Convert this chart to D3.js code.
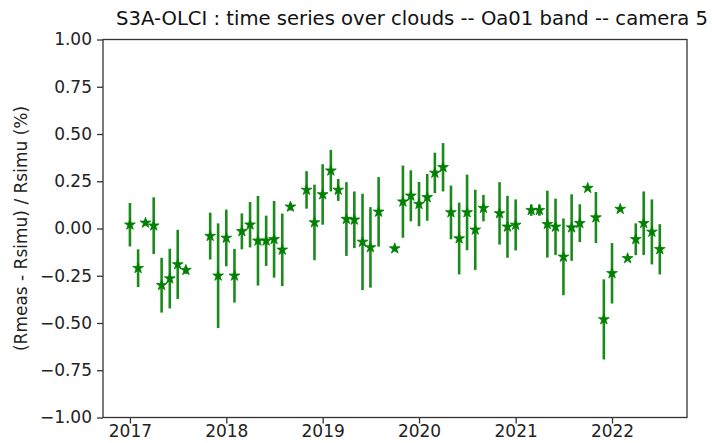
<!DOCTYPE html>
<html>
<head>
<meta charset="utf-8">
<script src="https://cdn.jsdelivr.net/npm/d3@7"></script>
<style>
  html, body { margin: 0; padding: 0; background: #fff; }
  svg { display: block; font-family: "DejaVu Sans", sans-serif; }
</style>
</head>
<body>
<svg id="chart" width="712" height="443"></svg>
<script>
// Monthly cloud-calibration results for S3A-OLCI, band Oa01, camera 5
const dates = [
  "2017-01-01","2017-02-01","2017-03-01","2017-04-01","2017-05-01","2017-06-01","2017-07-01","2017-08-01",
  "2017-11-01","2017-12-01","2018-01-01","2018-02-01","2018-03-01","2018-04-01","2018-05-01","2018-06-01",
  "2018-07-01","2018-08-01","2018-09-01","2018-11-01","2018-12-01","2019-01-01","2019-02-01","2019-03-01",
  "2019-04-01","2019-05-01","2019-06-01","2019-07-01","2019-08-01","2019-10-01","2019-11-01","2019-12-01",
  "2020-01-01","2020-02-01","2020-03-01","2020-04-01","2020-05-01","2020-06-01","2020-07-01","2020-08-01",
  "2020-09-01","2020-11-01","2020-12-01","2021-01-01","2021-03-01","2021-04-01","2021-05-01","2021-06-01",
  "2021-07-01","2021-08-01","2021-09-01","2021-10-01","2021-11-01","2021-12-01","2022-01-01","2022-02-01",
  "2022-03-01","2022-04-01","2022-05-01","2022-06-01","2022-07-01"
];
// mean relative difference (%)
const meanDiff = [
  0.020, -0.210, 0.030, 0.015, -0.300, -0.265, -0.190, -0.220,
  -0.040, -0.250, -0.050, -0.250, -0.015, 0.020, -0.065, -0.065,
  -0.057, -0.113, 0.115, 0.204, 0.032, 0.180, 0.306, 0.204,
  0.050, 0.046, -0.071, -0.100, 0.088, -0.106, 0.142, 0.173,
  0.129, 0.165, 0.294, 0.324, 0.085, -0.053, 0.085, -0.007,
  0.108, 0.080, 0.009, 0.019, 0.097, 0.097, 0.023, 0.009,
  -0.150, 0.005, 0.028, 0.214, 0.058, -0.481, -0.237, 0.103,
  -0.158, -0.057, 0.028, -0.018, -0.110
];
// standard deviation (%)
const stdDiff = [
  0.115, 0.100, 0.015, 0.150, 0.145, 0.158, 0.183, 0.020,
  0.124, 0.277, 0.150, 0.142, 0.095, 0.120, 0.237, 0.133,
  0.203, 0.192, 0.020, 0.099, 0.200, 0.160, 0.110, 0.058,
  0.195, 0.150, 0.255, 0.213, 0.184, 0.015, 0.191, 0.135,
  0.117, 0.124, 0.107, 0.128, 0.142, 0.190, 0.200, 0.212,
  0.070, 0.165, 0.164, 0.135, 0.030, 0.030, 0.177, 0.149,
  0.203, 0.176, 0.100, 0.000, 0.135, 0.212, 0.160, 0.000,
  0.000, 0.084, 0.168, 0.172, 0.133
];
const yTicks = [1.00, 0.75, 0.50, 0.25, 0.00, -0.25, -0.50, -0.75, -1.00];
const xTickYears = [2017, 2018, 2019, 2020, 2021, 2022];

const titleText = "S3A-OLCI : time series over clouds -- Oa01 band -- camera 5";
const yLabelText = "(Rmeas - Rsimu) / Rsimu (%)";

const parse = d3.timeParse("%Y-%m-%d");
const rows = dates.map((d, i) => ({ date: parse(d), v: meanDiff[i], e: stdDiff[i] }));

const plot = { left: 103, right: 687, top: 39.5, bottom: 417.5 };
const svg = d3.select("#chart");

const x = d3.scaleTime()
  .domain([new Date(2016, 8, 21), new Date(2022, 9, 12)])
  .range([plot.left, plot.right]);
const y = d3.scaleLinear().domain([-1, 1]).range([plot.bottom, plot.top]);

const green = "#008000";
const axisColor = "#333";
const fontSize = 17;

// title
svg.append("text")
  .attr("x", 116).attr("y", 25)
  .attr("font-size", 19.6)
  .attr("fill", "#111")
  .text(titleText);

// y label
svg.append("text")
  .attr("transform", `translate(27,${(plot.top + plot.bottom) / 2}) rotate(-90)`)
  .attr("text-anchor", "middle")
  .attr("font-size", fontSize)
  .attr("fill", "#222")
  .text(yLabelText);

// y axis
const yAxis = d3.axisLeft(y).tickValues(yTicks).tickSize(6).tickPadding(5)
  .tickFormat(d3.format(".2f"));
const gy = svg.append("g").attr("transform", `translate(${plot.left},0)`).call(yAxis);
gy.select(".domain").remove();
gy.selectAll(".tick line").attr("stroke", axisColor).attr("stroke-width", 1.3);
gy.selectAll(".tick text").attr("font-size", fontSize).attr("fill", "#222")
  .attr("font-family", "DejaVu Sans, sans-serif")
  .text(d => d3.format(".2f")(d).replace("-", "\u2212"));

// x axis
const xAxis = d3.axisBottom(x)
  .tickValues(xTickYears.map(yr => new Date(yr, 0, 1)))
  .tickSize(6).tickPadding(3)
  .tickFormat(d3.timeFormat("%Y"));
const gx = svg.append("g").attr("transform", `translate(0,${plot.bottom})`).call(xAxis);
gx.select(".domain").remove();
gx.selectAll(".tick line").attr("stroke", axisColor).attr("stroke-width", 1.3);
gx.selectAll(".tick text").attr("font-size", fontSize).attr("fill", "#222")
  .attr("font-family", "DejaVu Sans, sans-serif")
  .attr("dy", "0.62em");

// error bars
svg.append("g").selectAll("line")
  .data(rows.filter(r => r.e > 0))
  .join("line")
  .attr("x1", r => x(r.date)).attr("x2", r => x(r.date))
  .attr("y1", r => y(r.v + r.e)).attr("y2", r => y(r.v - r.e))
  .attr("stroke", "#1a8a1a").attr("stroke-width", 2.6);

// star markers
const star = d3.symbol().type(d3.symbolStar).size(36);
svg.append("g").selectAll("path")
  .data(rows)
  .join("path")
  .attr("d", star)
  .attr("transform", r => `translate(${x(r.date)},${y(r.v)})`)
  .attr("fill", green)
  .attr("stroke", green)
  .attr("stroke-width", 0.8);

// frame
svg.append("rect")
  .attr("x", plot.left).attr("y", plot.top)
  .attr("width", plot.right - plot.left).attr("height", plot.bottom - plot.top)
  .attr("fill", "none").attr("stroke", axisColor).attr("stroke-width", 1.3);
</script>
</body>
</html>
